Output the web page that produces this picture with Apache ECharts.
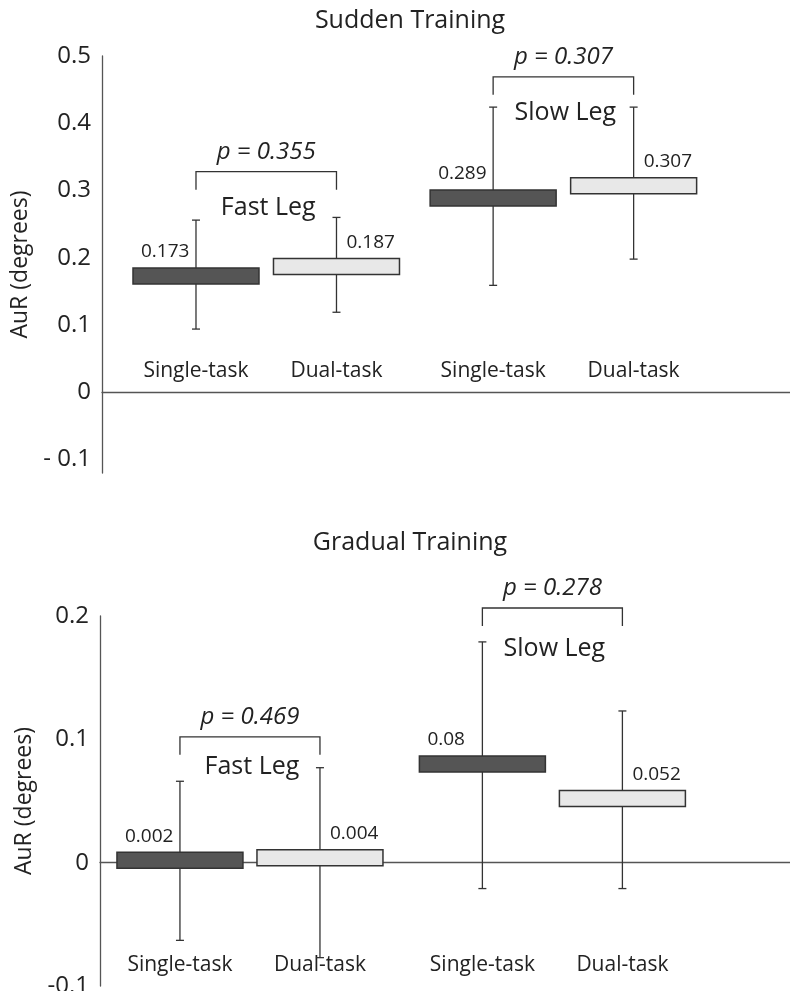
<!DOCTYPE html>
<html><head><meta charset="utf-8">
<script src="https://cdn.jsdelivr.net/npm/echarts@6/dist/echarts.min.js"></script>
<style>html,body{margin:0;padding:0;background:#fff}#c{width:790px;height:991px}</style>
</head><body><div id="c"></div><script>
// ---------- data ----------
const categories = ['Single-task', 'Dual-task', 'Single-task', 'Dual-task'];
const groupNames = ['Fast Leg', 'Slow Leg'];
const panelTitles = ['Sudden Training', 'Gradual Training'];
const yTicksSudden = [-0.1, 0, 0.1, 0.2, 0.3, 0.4, 0.5];
const yTicksGradual = [-0.1, 0, 0.1, 0.2];
const suddenMeans = [0.173, 0.187, 0.289, 0.307];
const suddenUpper = [0.256, 0.260, 0.424, 0.424];
const suddenLower = [0.094, 0.119, 0.159, 0.198];
const suddenP = ['0.355', '0.307'];
const gradualMeans = [0.002, 0.004, 0.08, 0.052];
const gradualUpper = [0.066, 0.077, 0.179, 0.123];
const gradualLower = [-0.063, -0.077, -0.021, -0.021];
const gradualP = ['0.469', '0.278'];

// ---------- layout / style ----------
const FONT = '"Open Sans", "DejaVu Sans", sans-serif';
const TXT = '#222';
const AX = '#555';
const L = [
  {gridTop: 56, gridBottom: 518, left: 102, xMin: -0.669, xMax: 4.228, gap: 0.115, yMin: -0.12, yMax: 0.5,
   bracketY: [0.328, 0.469], legTextY: [0.274, 0.416], labelMargin: 91},
  {gridTop: 616, gridBottom: 5, left: 100, xMin: -0.571, xMax: 4.357, gap: 0.16, yMin: -0.1, yMax: 0.2,
   bracketY: [0.102, 0.2065], legTextY: [0.078, 0.173], labelMargin: 10}
];
const BOX_HALF_W = 63, BOX_HALF_H = 8, CAP = 4, LEG = 18;

function xPos(i, gap) { return i + (i >= 2 ? gap : 0); }
function fmtY(v, p) {
  if (Math.abs(v) < 1e-9) return '0';
  const s = String(Math.round(Math.abs(v) * 10) / 10);
  return v < 0 ? (p === 0 ? '- ' + s : '-' + s) : s;
}

const panels = [
  {means: suddenMeans, upper: suddenUpper, lower: suddenLower, p: suddenP, ticks: yTicksSudden},
  {means: gradualMeans, upper: gradualUpper, lower: gradualLower, p: gradualP, ticks: yTicksGradual}
];

const grid = [], xAxis = [], yAxis = [], series = [];
panels.forEach((P, pi) => {
  const lay = L[pi];
  grid.push({left: lay.left, right: 0, top: lay.gridTop, bottom: lay.gridBottom, containLabel: false, outerBoundsMode: 'none'});
  const xVals = categories.map((c, i) => xPos(i, lay.gap));
  // labelled x axis (labels at grid bottom, drawn inward)
  xAxis.push({
    gridIndex: pi, type: 'value', min: lay.xMin, max: lay.xMax,
    splitLine: {show: false}, axisTick: {show: false},
    axisLine: {show: false, onZero: false},
    axisLabel: {
      inside: true, margin: lay.labelMargin, customValues: xVals,
      formatter: v => { let k = 0, d = 1e9; xVals.forEach((x, i) => { if (Math.abs(x - v) < d) { d = Math.abs(x - v); k = i; } }); return categories[k]; },
      fontSize: 21, color: TXT, fontFamily: FONT
    }
  });
  const xa = xAxis.length - 1;
  // zero line axis
  xAxis.push({
    gridIndex: pi, type: 'value', position: 'top', min: lay.xMin, max: lay.xMax,
    splitLine: {show: false}, axisTick: {show: false}, axisLabel: {show: false},
    axisLine: {show: true, onZero: true, lineStyle: {color: AX, width: 1.3}}
  });
  yAxis.push({
    gridIndex: pi, type: 'value', min: lay.yMin, max: lay.yMax,
    splitLine: {show: false}, axisTick: {show: false},
    axisLine: {show: true, onZero: false, lineStyle: {color: AX, width: 1.3}},
    axisLabel: {customValues: P.ticks, formatter: v => fmtY(v, pi), fontSize: 24, color: TXT, fontFamily: FONT, margin: 11},
    name: 'AuR (degrees)', nameLocation: 'middle', nameGap: 64,
    nameTextStyle: {fontSize: 23, color: TXT, fontFamily: FONT}
  });
  // boxes + error bars
  series.push({
    type: 'custom', xAxisIndex: xa, yAxisIndex: pi, clip: false, animation: false, z: 3,
    data: P.means.map((m, i) => [xVals[i], m, P.upper[i], P.lower[i]]),
    renderItem: (params, api) => {
      const idx = params.dataIndex;
      const single = idx % 2 === 0;
      const c = api.coord([api.value(0), api.value(1)]);
      const hi = api.coord([api.value(0), api.value(2)]);
      const lo = api.coord([api.value(0), api.value(3)]);
      const ls = {stroke: '#333', lineWidth: 1.3};
      return {type: 'group', children: [
        {type: 'line', shape: {x1: c[0], y1: hi[1], x2: c[0], y2: lo[1]}, style: ls},
        {type: 'line', shape: {x1: c[0] - CAP, y1: hi[1], x2: c[0] + CAP, y2: hi[1]}, style: ls},
        {type: 'line', shape: {x1: c[0] - CAP, y1: lo[1], x2: c[0] + CAP, y2: lo[1]}, style: ls},
        {type: 'rect', shape: {x: c[0] - BOX_HALF_W, y: c[1] - BOX_HALF_H, width: BOX_HALF_W * 2, height: BOX_HALF_H * 2},
         style: {fill: single ? '#555555' : '#e8e8e8', stroke: '#333', lineWidth: 1.5}},
        {type: 'text', style: {
          text: String(P.means[idx]),
          x: single ? c[0] - BOX_HALF_W + 8 : c[0] + 10, y: c[1] - BOX_HALF_H - 16,
          align: 'left', verticalAlign: 'middle', fill: TXT, fontSize: 19, fontFamily: FONT}}
      ]};
    }
  });
  // brackets, p-values and group names
  series.push({
    type: 'custom', xAxisIndex: xa, yAxisIndex: pi, clip: false, animation: false, z: 4,
    data: groupNames.map((g, gi) => [xVals[gi * 2], xVals[gi * 2 + 1], lay.bracketY[gi], lay.legTextY[gi]]),
    renderItem: (params, api) => {
      const gi = params.dataIndex;
      const a = api.coord([api.value(0), api.value(2)]);
      const b = api.coord([api.value(1), api.value(2)]);
      const t = api.coord([(api.value(0) + api.value(1)) / 2, api.value(3)]);
      const mx = (a[0] + b[0]) / 2;
      return {type: 'group', children: [
        {type: 'polyline', shape: {points: [[a[0], a[1] + LEG], [a[0], a[1]], [b[0], b[1]], [b[0], b[1] + LEG]]},
         style: {stroke: '#333', lineWidth: 1.3, fill: null}},
        {type: 'text', style: {text: 'p = ' + P.p[gi], x: mx, y: a[1] - 20, align: 'center', verticalAlign: 'middle',
          fill: TXT, fontSize: 24, fontStyle: 'italic', fontFamily: FONT}},
        {type: 'text', style: {text: groupNames[gi], x: t[0] + 2, y: t[1], align: 'center', verticalAlign: 'middle',
          fill: TXT, fontSize: 25, fontFamily: FONT}}
      ]};
    }
  });
});

const chart = echarts.init(document.getElementById('c'), null, {renderer: 'canvas'});
chart.setOption({
  backgroundColor: '#fff',
  animation: false,
  grid, xAxis, yAxis, series,
  graphic: panelTitles.map((t, i) => ({
    type: 'text', x: 410, y: i === 0 ? 21 : 543,
    style: {text: t, fill: TXT, fontSize: 25, fontFamily: FONT, align: 'center', verticalAlign: 'middle',
            textAlign: 'center', textVerticalAlign: 'middle'}
  }))
});
</script></body></html>
